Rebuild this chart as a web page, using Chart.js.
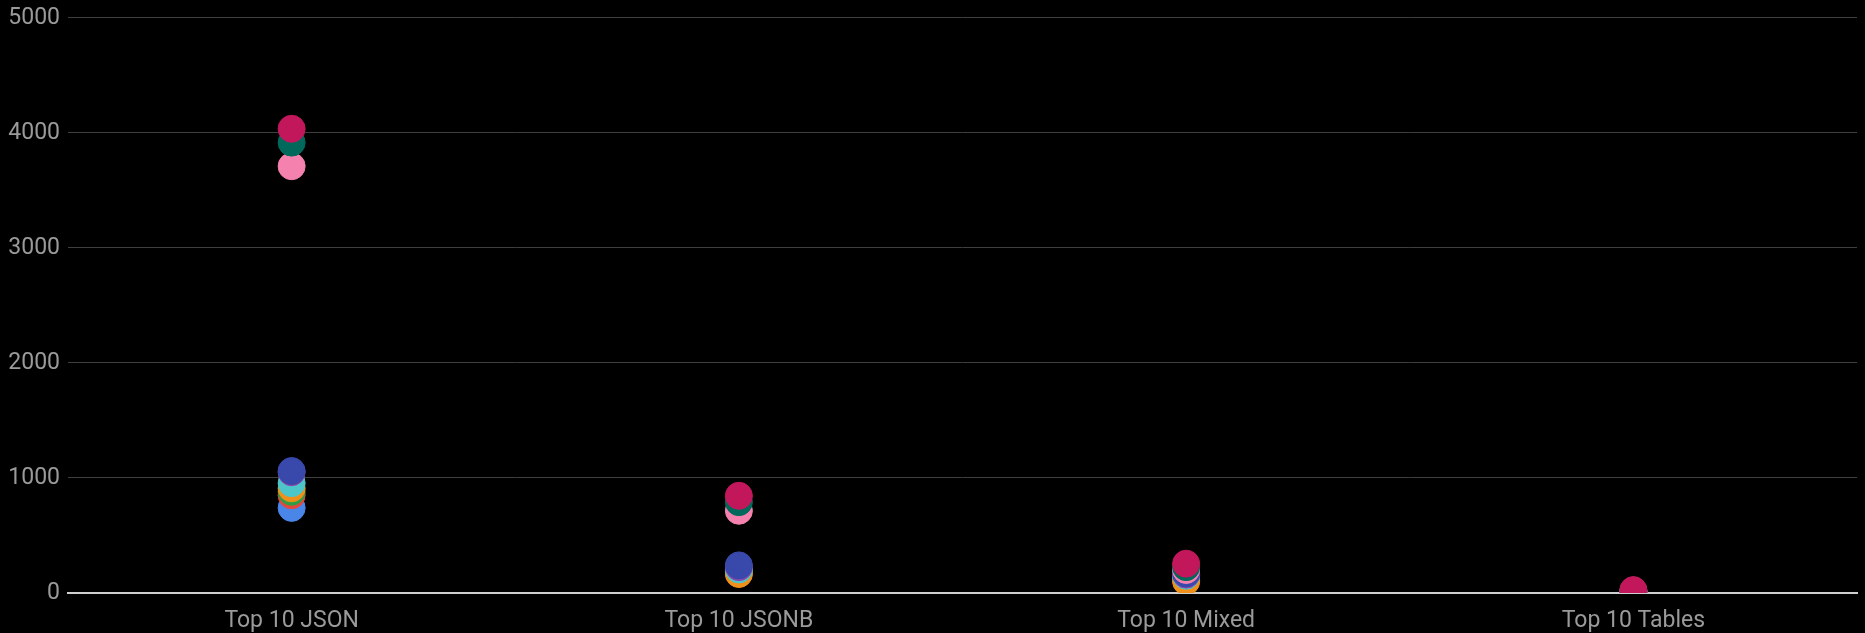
<!DOCTYPE html>
<html>
<head>
<meta charset="utf-8">
<script src="https://cdn.jsdelivr.net/npm/chart.js@4/dist/chart.umd.min.js"></script>
<style>
  html, body { margin: 0; padding: 0; background: #000; overflow: hidden; }
  #wrap { position: relative; width: 1865px; height: 633px; overflow: hidden; }
  #c { display: block; }
</style>
</head>
<body>
<div id="wrap"><canvas id="c"></canvas></div>
<script>
const categories = ['Top 10 JSON', 'Top 10 JSONB', 'Top 10 Mixed', 'Top 10 Tables'];
const yTicks = [0, 1000, 2000, 3000, 4000, 5000];

// listed from top-most drawn to bottom-most drawn
const seriesCrimson = [4035, 845, 255, 25];
const seriesTeal    = [3915, 790, 225, 20];
const seriesPink    = [3710, 715, 200, 18];
const seriesIndigo  = [1060, 240, 170, 12];
const seriesPurple  = [1050, 225, 160, 10];
const seriesCyan    = [955, 205, 150, 10];
const seriesOrange  = [910, 165, 100, 8];
const seriesGreen   = [880, 180, 125, 8];
const seriesRed     = [850, 185, 110, 8];
const seriesBlue    = [740, 190, 140, 8];

const seriesList = [
  { name: 'Series 10', data: seriesCrimson, color: '#c2185b' },
  { name: 'Series 9',  data: seriesTeal,    color: '#00695c' },
  { name: 'Series 8',  data: seriesPink,    color: '#f582ae' },
  { name: 'Series 7',  data: seriesIndigo,  color: '#3949ab' },
  { name: 'Series 6',  data: seriesPurple,  color: '#8e44ad' },
  { name: 'Series 5',  data: seriesCyan,    color: '#4cc6c9' },
  { name: 'Series 4',  data: seriesOrange,  color: '#f0901a' },
  { name: 'Series 3',  data: seriesGreen,   color: '#2e9e44' },
  { name: 'Series 2',  data: seriesRed,     color: '#e5483a' },
  { name: 'Series 1',  data: seriesBlue,    color: '#4a86e8' }
];

new Chart(document.getElementById('c'), {
  type: 'line',
  data: {
    labels: categories,
    datasets: seriesList.map(s => ({
      label: s.name,
      data: s.data,
      showLine: false,
      backgroundColor: s.color,
      borderColor: s.color,
      pointBackgroundColor: s.color,
      pointBorderColor: s.color,
      pointRadius: 13.5,
      pointBorderWidth: 1,
      pointHoverRadius: 13.5,
      clip: 0
    }))
  },
  options: {
    responsive: true,
    maintainAspectRatio: false,
    animation: false,
    layout: { autoPadding: false, padding: { left: 0, right: 8, top: 17, bottom: 0 } },
    plugins: { legend: { display: false }, tooltip: { enabled: false } },
    scales: {
      x: {
        offset: true,
        grid: { display: false, drawTicks: false },
        border: { display: true, color: '#cfcfcf', width: 2 },
        ticks: { color: '#9a9a9a', font: { family: 'Roboto', size: 23 }, padding: 14 },
        afterFit: (s) => { s.height = 40; s.paddingLeft = 0; s.paddingRight = 0; }
      },
      y: {
        min: 0, max: 5000,
        afterBuildTicks: (s) => { s.ticks = yTicks.map(v => ({ value: v })); },
        grid: { color: '#3f3f3f', drawTicks: false, lineWidth: 1 },
        border: { display: false },
        ticks: {
          color: '#9a9a9a', font: { family: 'Roboto', size: 23, lineHeight: 0.85 }, padding: 8,
          callback: (v) => String(v)
        },
        afterFit: (s) => { s.width = 68; }
      }
    }
  }
});
</script>
</body>
</html>
